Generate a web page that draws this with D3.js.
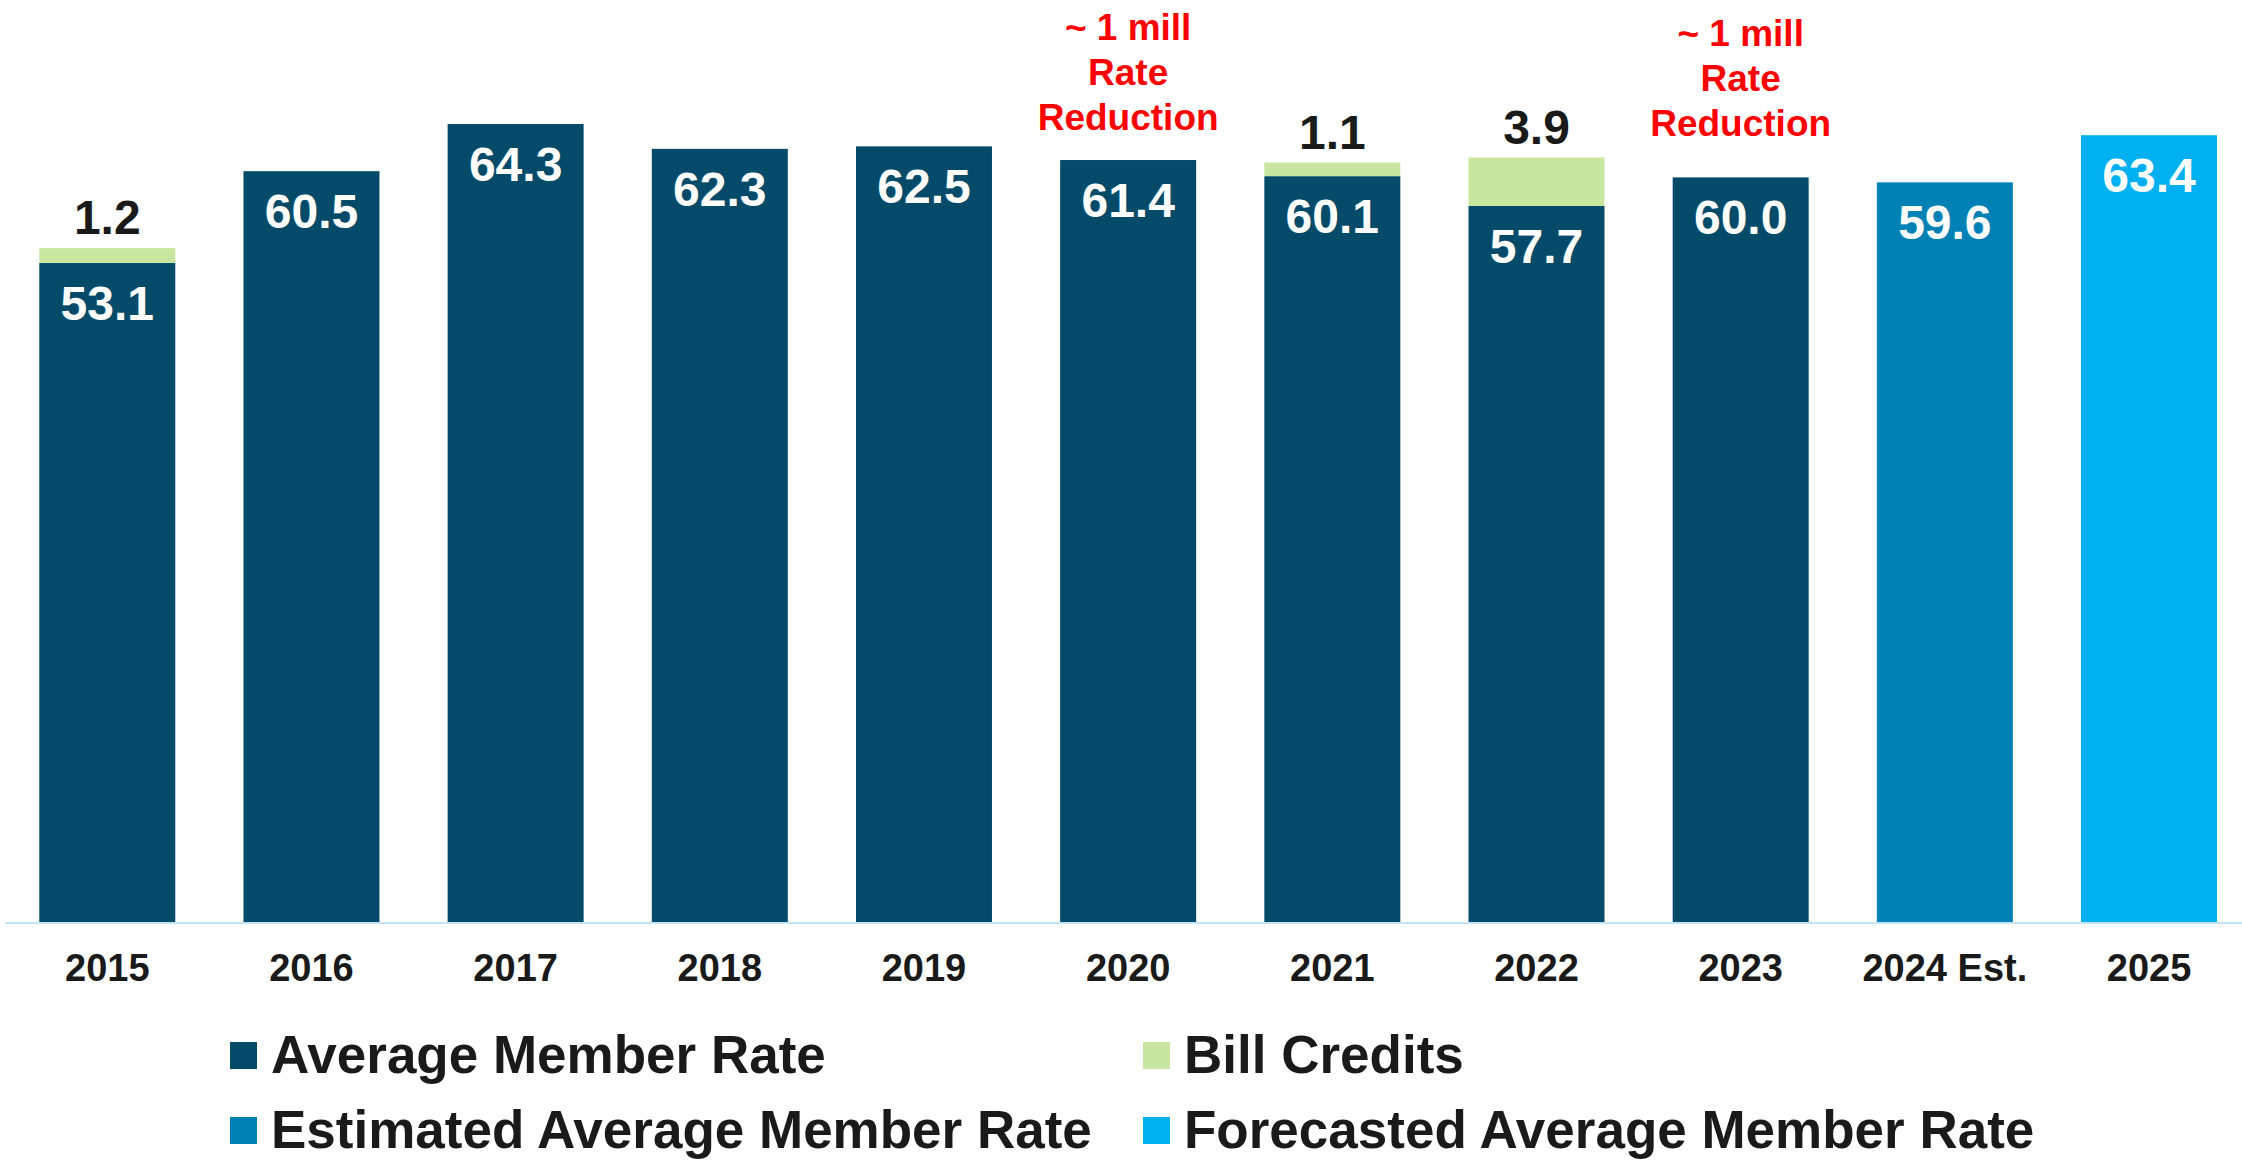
<!DOCTYPE html>
<html>
<head>
<meta charset="utf-8">
<script src="https://cdn.jsdelivr.net/npm/d3@7"></script>
<style>
  html, body { margin: 0; padding: 0; background: #ffffff; }
  svg { display: block; font-family: "Liberation Sans", Arial, sans-serif; font-weight: bold; }
</style>
</head>
<body>
<svg id="chart" width="2242" height="1160"></svg>
<script>
// Years shown on the axis
const categories = ["2015", "2016", "2017", "2018", "2019", "2020", "2021", "2022", "2023", "2024 Est.", "2025"];
// Average member rate per year (mills)
const memberRate = [53.1, 60.5, 64.3, 62.3, 62.5, 61.4, 60.1, 57.7, 60.0, 59.6, 63.4];
// Bill credits stacked on top of the member rate
const billCredits = [1.2, 0, 0, 0, 0, 0, 1.1, 3.9, 0, 0, 0];
// Which series each base bar belongs to
const rateSeries = ["actual", "actual", "actual", "actual", "actual", "actual", "actual", "actual", "actual", "estimated", "forecast"];
// Red notes above selected years
const noteYears = ["2020", "2023"];
const noteLines = ["~ 1 mill", "Rate", "Reduction"];
// Legend entries
const legendLabels = ["Average Member Rate", "Bill Credits", "Estimated Average Member Rate", "Forecasted Average Member Rate"];
const legendKeys = ["actual", "credit", "estimated", "forecast"];

const colors = {
  actual: "#034b68",
  credit: "#c8e6a0",
  estimated: "#0081b5",
  forecast: "#00b0f0"
};
const textDark = "#1a1a1a";

const svg = d3.select("#chart");

const x = d3.scaleBand()
  .domain(categories)
  .range([5.2, 2251.1])
  .paddingInner(0.334)
  .paddingOuter(0.167);

const y = d3.scaleLinear()
  .domain([0, 70])
  .range([922, 922 - 70 * 12.41]);

const rows = categories.map((c, i) => ({
  cat: c,
  base: memberRate[i],
  credit: billCredits[i],
  series: rateSeries[i]
}));

// Base bars
svg.append("g").selectAll("rect")
  .data(rows)
  .join("rect")
  .attr("x", d => x(d.cat))
  .attr("width", x.bandwidth())
  .attr("y", d => y(d.base))
  .attr("height", d => y(0) - y(d.base))
  .attr("fill", d => colors[d.series]);

// Bill credit segments
svg.append("g").selectAll("rect")
  .data(rows.filter(d => d.credit > 0))
  .join("rect")
  .attr("x", d => x(d.cat))
  .attr("width", x.bandwidth())
  .attr("y", d => y(d.base + d.credit))
  .attr("height", d => y(d.base) - y(d.base + d.credit))
  .attr("fill", colors.credit);

// Category axis: baseline and year labels
const axis = d3.axisBottom(x).tickSize(0).tickPadding(0);
const gx = svg.append("g")
  .attr("transform", `translate(0, ${y(0)})`)
  .call(axis);
gx.select(".domain").remove();
gx.selectAll("text")
  .attr("dy", null)
  .attr("y", 59)
  .attr("font-family", "Liberation Sans, Arial, sans-serif")
  .attr("font-weight", "bold")
  .attr("font-size", 38)
  .attr("fill", textDark);

svg.append("line")
  .attr("x1", 5)
  .attr("x2", 2242)
  .attr("y1", y(0) + 1)
  .attr("y2", y(0) + 1)
  .attr("stroke", "#c3e4f7")
  .attr("stroke-width", 2);

// Value labels inside the base bars
svg.append("g").selectAll("text")
  .data(rows)
  .join("text")
  .attr("x", d => x(d.cat) + x.bandwidth() / 2)
  .attr("y", d => y(d.base) + 57)
  .attr("text-anchor", "middle")
  .attr("font-size", 48)
  .attr("fill", "#ffffff")
  .text(d => d.base.toFixed(1));

// Bill credit labels above the stacks
svg.append("g").selectAll("text")
  .data(rows.filter(d => d.credit > 0))
  .join("text")
  .attr("x", d => x(d.cat) + x.bandwidth() / 2)
  .attr("y", d => y(d.base + d.credit) - 14)
  .attr("text-anchor", "middle")
  .attr("font-size", 48)
  .attr("fill", textDark)
  .text(d => d.credit.toFixed(1));

// Rate reduction notes
const noteGap = { "2020": 30, "2023": 41 };
noteYears.forEach(yr => {
  const r = rows.find(d => d.cat === yr);
  const bottom = y(r.base + r.credit) - noteGap[yr];
  const t = svg.append("text")
    .attr("text-anchor", "middle")
    .attr("font-size", 37)
    .attr("fill", "#ff0000");
  noteLines.forEach((line, k) => {
    t.append("tspan")
      .attr("x", x(yr) + x.bandwidth() / 2)
      .attr("y", bottom - (noteLines.length - 1 - k) * 45)
      .text(line);
  });
});

// Legend, two columns by two rows
const legendCols = [230, 1143];
const legendRows = [1042, 1117];
const lg = svg.append("g").selectAll("g")
  .data(legendLabels.map((l, i) => ({ label: l, key: legendKeys[i], col: i % 2, row: Math.floor(i / 2) })))
  .join("g")
  .attr("transform", d => `translate(${legendCols[d.col]}, ${legendRows[d.row]})`);
lg.append("rect")
  .attr("width", 27)
  .attr("height", 27)
  .attr("fill", d => colors[d.key]);
lg.append("text")
  .attr("x", 41)
  .attr("y", 31)
  .attr("font-size", 53)
  .attr("fill", textDark)
  .text(d => d.label);
</script>
</body>
</html>
